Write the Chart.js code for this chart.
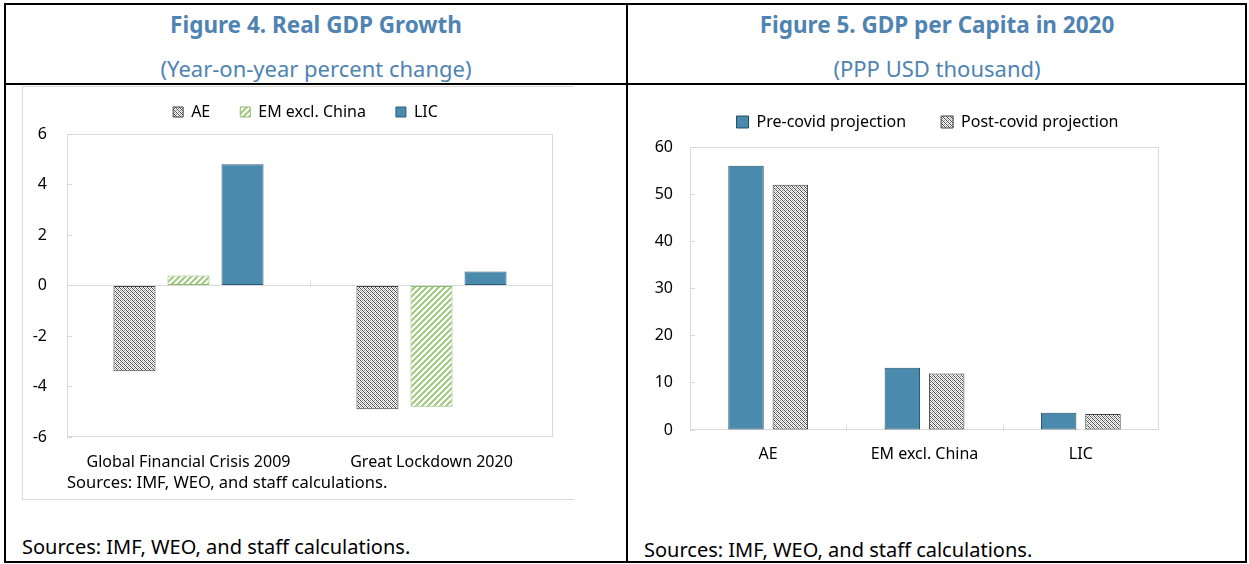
<!DOCTYPE html>
<html>
<head>
<meta charset="utf-8">
<script src="https://cdn.jsdelivr.net/npm/chart.js@4.4.1/dist/chart.umd.min.js"></script>
<style>
  body { margin: 0; background: #fff; font-family: 'Noto Sans', sans-serif; }
  #page { position: relative; width: 1249px; height: 564px; overflow: hidden; }
  .box { position: absolute; border: 2px solid #000; box-sizing: border-box; }
  .bar { position: absolute; background: #000; }
  .gray { position: absolute; background: #d9d9d9; }
  .head { position: absolute; text-align: center; color: #4f83b2; height: 30px; line-height: 30px; white-space: nowrap; }
  .title { font-weight: bold; font-size: 22.5px; }
  .sub { font-size: 22px; }
  .src { position: absolute; font-size: 20px; line-height: 30px; color: #000; white-space: nowrap; }
  canvas { position: absolute; }
</style>
</head>
<body>
<div id="page">
  <div class="box" style="left:4px;top:3px;width:1243px;height:560px"></div>
  <div class="bar" style="left:626px;top:3px;width:2px;height:560px"></div>
  <div class="bar" style="left:4px;top:83px;width:1243px;height:2px"></div>

  <div class="gray" style="left:22px;top:86px;width:552px;height:1px"></div>
  <div class="gray" style="left:22px;top:86px;width:1px;height:414px"></div>
  <div class="gray" style="left:22px;top:499px;width:552px;height:1px"></div>

  <div class="head title" style="left:6px;width:620px;top:10px">Figure 4. Real GDP Growth</div>
  <div class="head sub" style="left:6px;width:620px;top:53px">(Year-on-year percent change)</div>
  <div class="head title" style="left:628px;width:618px;top:10px">Figure 5. GDP per Capita in 2020</div>
  <div class="head sub" style="left:628px;width:618px;top:53px">(PPP USD thousand)</div>

  <canvas id="growth" width="566" height="434" style="left:22px;top:66px"></canvas>
  <canvas id="capita" width="560" height="420" style="left:640px;top:66px"></canvas>

  <div class="src" style="left:22px;top:532px">Sources: IMF, WEO, and staff calculations.</div>
  <div class="src" style="left:644px;top:535px">Sources: IMF, WEO, and staff calculations.</div>
</div>
<script>
// Figure 4 data
const crisisLabels = ['Global Financial Crisis 2009', 'Great Lockdown 2020'];
const aeGrowth = [-3.4, -4.9];
const emGrowth = [0.4, -4.8];
const licGrowth = [4.8, 0.55];

// Figure 5 data
const groupLabels = ['AE', 'EM excl. China', 'LIC'];
const preCovid = [56, 13.2, 3.65];
const postCovid = [52, 12, 3.4];

Chart.defaults.font.family = "'Noto Sans', sans-serif";
Chart.defaults.color = '#000';

function grayHatch() {
  const c = document.createElement('canvas');
  c.width = 4; c.height = 4;
  const g = c.getContext('2d');
  g.fillStyle = '#fff';
  g.fillRect(0, 0, 4, 4);
  for (let x = 0; x < 4; x++) {
    for (let y = 0; y < 4; y++) {
      let col = null;
      if ((x - y + 4) % 4 === 0) col = '#4d4d4d';
      else if ((x + y) % 4 === 2) col = '#8c8c8c';
      else if ((x - y + 4) % 4 === 2) col = '#c8c8c8';
      if (col) { g.fillStyle = col; g.fillRect(x, y, 1, 1); }
    }
  }
  return g.createPattern(c, 'repeat');
}

function greenStripes() {
  const c = document.createElement('canvas');
  c.width = 6; c.height = 6;
  const g = c.getContext('2d');
  g.fillStyle = '#fff';
  g.fillRect(0, 0, 6, 6);
  g.fillStyle = '#a3cc86';
  for (let x = 0; x < 6; x++) {
    for (let y = 0; y < 6; y++) {
      if ((x + y) % 6 < 3) g.fillRect(x, y, 1, 1);
    }
  }
  return g.createPattern(c, 'repeat');
}

// frame round the plot area and small ticks between categories on the zero line
const plotFrame = {
  id: 'plotFrame',
  beforeDatasetsDraw(chart) {
    const { ctx, chartArea: a, scales: { x, y } } = chart;
    ctx.save();
    ctx.strokeStyle = '#d9d9d9';
    ctx.lineWidth = 1;
    ctx.strokeRect(a.left + 0.5, a.top + 0.5, a.width - 1, a.height - 1);
    const y0 = Math.round(y.getPixelForValue(0)) + 0.5;
    ctx.beginPath();
    for (let i = 1; i < chart.data.labels.length; i++) {
      const bx = Math.round((x.getPixelForValue(i - 1) + x.getPixelForValue(i)) / 2) + 0.5;
      ctx.moveTo(bx, y0);
      ctx.lineTo(bx, y0 - 6);
    }
    ctx.stroke();
    ctx.restore();
  }
};

// move the legend box a little after layout
const legendNudge = {
  id: 'legendNudge',
  afterLayout(chart, args, opts) {
    const l = chart.legend;
    l.top -= opts.dy; l.bottom -= opts.dy;
    l.left += opts.dx; l.right += opts.dx;
  }
};

const hatch = grayHatch();
const stripes = greenStripes();

new Chart(document.getElementById('growth'), {
  type: 'bar',
  data: {
    labels: crisisLabels,
    datasets: [
      { label: 'AE', data: aeGrowth, backgroundColor: hatch, borderColor: '#404040', borderWidth: 1 },
      { label: 'EM excl. China', data: emGrowth, backgroundColor: stripes, borderColor: '#8dbd6c', borderWidth: 1 },
      { label: 'LIC', data: licGrowth, backgroundColor: '#4a8aad', borderColor: '#2f5d78', borderWidth: 1 }
    ]
  },
  options: {
    responsive: false,
    animation: false,
    layout: { padding: { top: 12, right: 35, left: 0, bottom: 0 } },
    datasets: { bar: { categoryPercentage: 0.667, barPercentage: 0.778, borderSkipped: false } },
    plugins: {
      legend: {
        labels: { boxWidth: 10, boxHeight: 10, padding: 30, font: { size: 16 } }
      },
      tooltip: { enabled: false },
      legendNudge: { dx: 18, dy: 4 }
    },
    scales: {
      x: {
        grid: { display: false, drawTicks: false },
        border: { display: false },
        ticks: { padding: 16, font: { size: 16 } },
        title: {
          display: true, text: 'Sources: IMF, WEO, and staff calculations.', align: 'start',
          font: { size: 16.5 }, padding: { top: 0, bottom: 7 }
        },
        afterFit: s => { s.height = 63; }
      },
      y: {
        min: -6, max: 6,
        ticks: { stepSize: 2, padding: 25, font: { size: 16 } },
        grid: {
          color: c => (c.tick && c.tick.value === 0) ? '#d9d9d9' : 'rgba(0,0,0,0)',
          tickColor: '#d9d9d9', tickLength: -5, drawTicks: true
        },
        border: { display: false },
        afterFit: s => { s.width = 45; }
      }
    }
  },
  plugins: [plotFrame, legendNudge]
});

new Chart(document.getElementById('capita'), {
  type: 'bar',
  data: {
    labels: groupLabels,
    datasets: [
      { label: 'Pre-covid projection', data: preCovid, backgroundColor: '#4a8aad', borderColor: '#254d66', borderWidth: 1 },
      { label: 'Post-covid projection', data: postCovid, backgroundColor: hatch, borderColor: '#404040', borderWidth: 1 }
    ]
  },
  options: {
    responsive: false,
    animation: false,
    layout: { padding: { top: 20, right: 41, left: 0, bottom: 0 } },
    datasets: { bar: { categoryPercentage: 0.567, barPercentage: 0.8, borderSkipped: false } },
    plugins: {
      legend: {
        labels: { boxWidth: 12, boxHeight: 12, padding: 35, font: { size: 16 } }
      },
      tooltip: { enabled: false },
      legendNudge: { dx: 28, dy: 7 }
    },
    scales: {
      x: {
        grid: { display: false, drawTicks: false },
        border: { display: false },
        ticks: { padding: 15, font: { size: 16 } },
        afterFit: s => { s.height = 56; }
      },
      y: {
        min: 0, max: 60,
        ticks: { stepSize: 10, padding: 22, font: { size: 16 } },
        grid: { drawOnChartArea: false, tickColor: '#d9d9d9', tickLength: -5, drawTicks: true },
        border: { display: false },
        afterFit: s => { s.width = 50; }
      }
    }
  },
  plugins: [plotFrame, legendNudge]
});
</script>
</body>
</html>
